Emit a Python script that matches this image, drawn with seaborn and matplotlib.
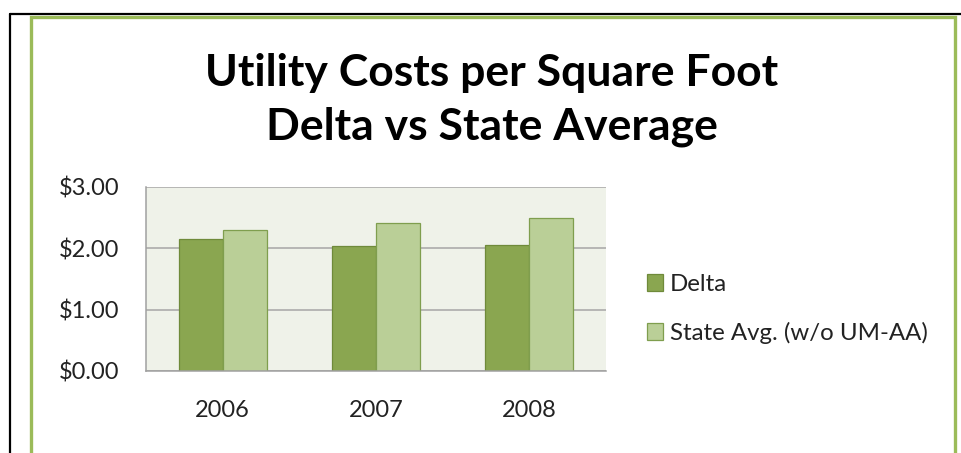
import matplotlib
matplotlib.use("Agg")
import matplotlib.pyplot as plt
import matplotlib.patches as mpatches
import pandas as pd
import seaborn as sns

# values
years = ["2006", "2007", "2008"]
delta = [2.16, 2.03, 2.06]
state_avg = [2.30, 2.41, 2.49]
series_names = ["Delta", "State Avg. (w/o UM-AA)"]
y_ticks = [0, 1, 2, 3]
y_tick_labels = ["$0.00", "$1.00", "$2.00", "$3.00"]

df = pd.DataFrame({
    "Year": years * 2,
    "Cost": delta + state_avg,
    "Series": [series_names[0]] * 3 + [series_names[1]] * 3,
})

fill_colors = ["#8AA650", "#BACF97"]
edge_colors = ["#6F8A3A", "#7F9E4E"]

sns.set_style("white")
plt.rcParams["font.family"] = ["Lato", "DejaVu Sans"]

fig = plt.figure(figsize=(9.61, 4.53), dpi=100)

# outer frame: black lines and green border
fig.add_artist(plt.Line2D([10 / 961, 10 / 961], [0, 1 - 14 / 453], color="black", lw=1.6,
                          transform=fig.transFigure))
fig.add_artist(plt.Line2D([10 / 961, 1], [1 - 14 / 453, 1 - 14 / 453], color="black", lw=1.6,
                          transform=fig.transFigure))
fig.add_artist(mpatches.Rectangle((31 / 961, -0.05), (955 - 31) / 961, 1.05 - 17 / 453,
                                  fill=False, edgecolor="#9BBB59", lw=2.4,
                                  transform=fig.transFigure))

ax = fig.add_axes([146 / 961, 1 - 371 / 453, 460 / 961, (371 - 187) / 453])
ax.set_facecolor("#EFF2E9")

sns.barplot(data=df, x="Year", y="Cost", hue="Series", palette=fill_colors,
            width=0.575, gap=0, saturation=1, ax=ax, legend=False)

for patch_group, ec in zip(ax.containers, edge_colors):
    for bar in patch_group:
        bar.set_edgecolor(ec)
        bar.set_linewidth(0.9)

ax.set_ylim(0, 3)
ax.set_xlim(-0.5, 2.5)
ax.set_yticks(y_ticks)
ax.set_yticklabels(y_tick_labels)
ax.yaxis.grid(True, color="#A6A6A6", lw=1.1)
ax.set_axisbelow(True)
ax.set_xlabel("")
ax.set_ylabel("")

for side in ["top", "right"]:
    ax.spines[side].set_visible(False)
for side in ["left", "bottom"]:
    ax.spines[side].set_color("#A0A0A0")
    ax.spines[side].set_linewidth(1.1)

# category boundary ticks on x, outward ticks on y
ax.set_xticks([-0.5, 0.5, 1.5, 2.5], minor=True)
ax.tick_params(axis="x", which="minor", length=6, width=1.1, color="#A0A0A0", direction="out")
ax.tick_params(axis="x", which="major", length=0, labelsize=17, pad=21, labelcolor="#222222")
ax.tick_params(axis="y", length=6, width=1.1, color="#A0A0A0", direction="out",
               labelsize=17, pad=13, labelcolor="#222222")

fig.text(0.512, 1 - 100 / 453,
         "Utility Costs per Square Foot\nDelta vs State Average",
         ha="center", va="center", fontsize=32, fontweight="bold",
         linespacing=1.38, color="black")

handles = [mpatches.Patch(facecolor=c, edgecolor=e, lw=0.9)
           for c, e in zip(fill_colors, edge_colors)]
fig.legend(handles, series_names, loc="center left",
           bbox_to_anchor=(625 / 961, 1 - 309 / 453), frameon=False,
           fontsize=17.3, handlelength=0.68, handleheight=0.68,
           handletextpad=0.3, labelspacing=1.13, labelcolor="#222222")

fig.savefig("out.png", dpi=100)
